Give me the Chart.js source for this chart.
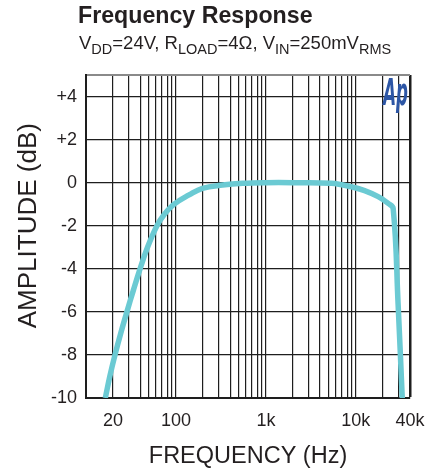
<!DOCTYPE html>
<html><head><meta charset="utf-8">
<script src="https://cdn.jsdelivr.net/npm/chart.js@4"></script>
<style>
html,body{margin:0;padding:0;background:#fff;}
#wrap{position:relative;width:446px;height:472px;overflow:hidden;}
canvas{position:absolute;left:0;top:0;}
.t{position:absolute;font-family:"Liberation Sans",Arial,Helvetica,sans-serif;color:#231f20;white-space:nowrap;}
#title{left:78px;top:4px;font-size:23.2px;line-height:23px;font-weight:bold;}
#sub{left:79px;top:34px;font-size:18.5px;line-height:18.5px;}
#sub span{font-size:14.5px;position:relative;top:5px;}
</style></head><body>
<div id="wrap">
<canvas id="c" width="446" height="472"></canvas>
<div class="t" id="title">Frequency Response</div>
<div class="t" id="sub">V<span>DD</span>=24V, R<span>LOAD</span>=4Ω, V<span>IN</span>=250mV<span>RMS</span></div>
</div>
<script>
const freqHz = [16.4, 18.4, 21.0, 24.3, 28.5, 33.6, 39.9, 48.3, 61.5, 73.4, 95.5, 140, 197, 330, 551, 1000, 2000, 5330, 8900, 12500, 17700, 22900, 26000, 29500, 32800];
const ampDb  = [-10, -9, -8, -7, -6, -5, -4, -3, -2, -1.5, -1.0, -0.57, -0.26, -0.11, -0.03, 0, 0, -0.03, -0.19, -0.37, -0.65, -0.96, -1.2, -5.64, -10];

const xGridHz = [20,30,40,50,60,70,80,90,100,200,300,400,500,600,700,800,900,1000,2000,3000,4000,5000,6000,7000,8000,9000,10000,20000,30000,40000];
const xTickValues = [20, 100, 1000, 10000, 40000];
const xTickLabels = ['20', '100', '1k', '10k', '40k'];
const yGridDb = [-10,-8,-6,-4,-2,0,2,4,5];
const yTickValues = [-10,-8,-6,-4,-2,0,2,4];
const yTickLabels = ['-10','-8','-6','-4','-2','0','+2','+4'];

const FONT = '"Liberation Sans", Arial, Helvetica, sans-serif';
const INK = '#231f20';
const GRID = '#1e1e1e';

const logoPlugin = {
  id: 'apLogo',
  afterDraw(chart) {
    const {ctx, chartArea} = chart;
    ctx.save();
    ctx.font = 'italic bold 37px "DejaVu Sans", ' + FONT;
    ctx.fillStyle = '#2d56a5';
    ctx.textAlign = 'right';
    ctx.textBaseline = 'alphabetic';
    ctx.translate(chartArea.right - 2, chartArea.top + 30);
    ctx.scale(0.45, 1);
    ctx.fillText('Ap', 0, 0);
    ctx.restore();
  }
};

new Chart(document.getElementById('c'), {
  type: 'line',
  data: {
    datasets: [{
      data: freqHz.map((f, i) => ({x: f, y: ampDb[i]})),
      borderColor: '#6bcad3',
      borderWidth: 5.5,
      pointRadius: 0,
      fill: false,
      tension: 0.4,
      clip: 0
    }]
  },
  options: {
    responsive: false,
    animation: false,
    layout: {padding: {top: 75, right: 36, left: 0, bottom: 0}},
    plugins: {legend: {display: false}, tooltip: {enabled: false}, title: {display: false}},
    scales: {
      x: {
        type: 'logarithmic',
        position: 'bottom',
        min: 10, max: 40000,
        afterBuildTicks: s => { s.ticks = xGridHz.map(v => ({value: v})); },
        afterFit: s => { s.height = 74; },
        ticks: {
          autoSkip: false, maxRotation: 0, minRotation: 0, padding: 12,
          color: INK, font: {family: FONT, size: 18},
          callback: v => { const i = xTickValues.indexOf(v); return i >= 0 ? xTickLabels[i] : ''; }
        },
        grid: {
          drawTicks: false,
          color: GRID,
          lineWidth: c => (c.tick && c.tick.value === 40000) ? 2.5 : 1.2
        },
        border: {display: true, color: GRID, width: 2},
        title: {display: true, text: 'FREQUENCY (Hz)', color: INK, font: {family: FONT, size: 23.5}, padding: {top: 0, bottom: 1}}
      },
      y: {
        type: 'linear',
        min: -10, max: 5,
        afterBuildTicks: s => { s.ticks = yGridDb.map(v => ({value: v})); },
        afterFit: s => { s.width = 86; },
        ticks: {
          padding: 9, color: INK, font: {family: FONT, size: 18},
          callback: v => { const i = yTickValues.indexOf(v); return i >= 0 ? yTickLabels[i] : ''; }
        },
        grid: {
          drawTicks: false,
          color: c => (c.tick && c.tick.value === 5) ? '#8a8a8a' : GRID,
          lineWidth: c => (c.tick && c.tick.value === 5) ? 2 : 1.2
        },
        border: {display: true, color: GRID, width: 2},
        title: {display: true, text: '   AMPLITUDE (dB)', color: INK, font: {family: FONT, size: 26}, padding: {top: 13, bottom: 0}}
      }
    }
  },
  plugins: [logoPlugin]
});
</script>
</body></html>
